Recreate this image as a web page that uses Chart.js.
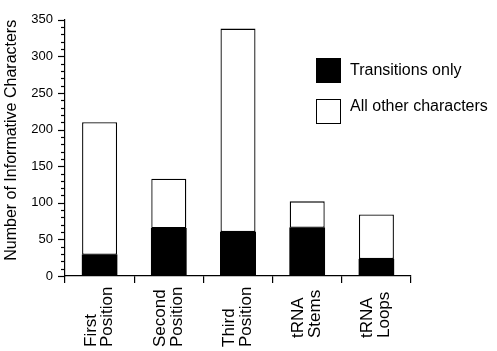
<!DOCTYPE html>
<html>
<head>
<meta charset="utf-8">
<script src="https://cdn.jsdelivr.net/npm/chart.js@4.4.1/dist/chart.umd.min.js"></script>
<style>
  html, body { margin: 0; padding: 0; background: #fff; }
  #wrap { position: relative; width: 497px; height: 351px; }
  canvas { position: absolute; left: 0; top: 0; }
  .lg { position: absolute; font-family: "Liberation Sans", Arial, sans-serif; font-size: 16px; color: #000; white-space: nowrap; line-height: 1; }
  .box { position: absolute; width: 25px; height: 25px; box-sizing: border-box; border: 1.3px solid #000; }
</style>
</head>
<body>
<div id="wrap">
  <canvas id="c" width="497" height="351"></canvas>
  <div class="box" style="left:316px; top:58px; background:#000;"></div>
  <div class="lg" style="left:350px; top:62px;">Transitions only</div>
  <div class="box" style="left:316px; top:99px; background:#fff;"></div>
  <div class="lg" style="left:350px; top:98px;">All other characters</div>
</div>
<script>
// ---- data ----
const categories = [["First", "Position"], ["Second", "Position"], ["Third", "Position"], ["tRNA", "Stems"], ["tRNA", "Loops"]];
const totalCharacters = [210, 133, 338, 102, 84];
const transitionsOnly = [29, 65, 60, 66, 23];
const allOtherCharacters = [181, 68, 278, 36, 61];
const yTickValues = [0, 50, 100, 150, 200, 250, 300, 350];
const seriesNames = ["Transitions only", "All other characters"];
const yTitle = "Number of Informative Characters";

const FONT = '"Liberation Sans", Arial, sans-serif';

const axisDecor = {
  id: 'axisDecor',
  afterDraw(chart) {
    const ctx = chart.ctx;
    const y = chart.scales.y, x = chart.scales.x;
    const ax = chart.chartArea.left;
    ctx.save();
    ctx.strokeStyle = '#000';
    ctx.lineWidth = 1.2;
    // y ticks: majors every 50, minors every 10
    for (let v = y.min; v <= y.max; v += 10) {
      const py = Math.round(y.getPixelForValue(v)) + 0.5;
      const len = (v % 50 === 0) ? 7 : 4;
      ctx.beginPath();
      ctx.moveTo(ax - len, py);
      ctx.lineTo(ax, py);
      ctx.stroke();
    }
    // x labels, rotated, reading bottom-to-top
    ctx.fillStyle = '#000';
    ctx.font = '17px ' + FONT;
    ctx.textAlign = 'left';
    ctx.textBaseline = 'alphabetic';
    categories.forEach((lines, i) => {
      const cx = x.getPixelForValue(i);
      const startY = lines[0] === 'tRNA' ? 338 : 347;
      lines.forEach((t, j) => {
        const bx = cx - 4 + j * 16.7;
        ctx.save();
        ctx.translate(bx, startY);
        ctx.rotate(-Math.PI / 2);
        ctx.fillText(t, 0, 0);
        ctx.restore();
      });
    });
    ctx.restore();
  }
};

new Chart(document.getElementById('c'), {
  type: 'bar',
  data: {
    labels: categories,
    datasets: [
      { label: seriesNames[0], data: transitionsOnly, backgroundColor: '#000', borderColor: '#000', borderWidth: 1.3, borderSkipped: false, inflateAmount: 0.5 },
      { label: seriesNames[1], data: allOtherCharacters, backgroundColor: '#fff', borderColor: '#000', borderWidth: 1.3, borderSkipped: false }
    ]
  },
  options: {
    responsive: false,
    animation: false,
    devicePixelRatio: 1,
    layout: { padding: { top: 16, right: 86, left: 0, bottom: 0 } },
    plugins: { legend: { display: false }, tooltip: { enabled: false } },
    datasets: { bar: { categoryPercentage: 1, barPercentage: 0.506 } },
    scales: {
      x: {
        stacked: true,
        offset: true,
        grid: { offset: true, drawOnChartArea: false, drawTicks: true, tickLength: 7, color: '#000', lineWidth: 1.2 },
        border: { display: true, color: '#000', width: 1.2 },
        ticks: { display: false },
        afterFit(s) { s.height = 75; }
      },
      y: {
        stacked: true,
        min: 0,
        max: 350,
        afterBuildTicks(s) { s.ticks = yTickValues.map(v => ({ value: v })); },
        grid: { display: false, drawTicks: false },
        border: { display: true, color: '#000', width: 1.2 },
        ticks: { color: '#000', padding: 12, font: { family: FONT, size: 13 } },
        title: { display: true, text: yTitle, align: 'end', color: '#000', padding: { top: 2, bottom: 0 }, font: { family: FONT, size: 16 } },
        afterFit(s) { s.width = 65; }
      }
    }
  },
  plugins: [axisDecor]
});
</script>
</body>
</html>
